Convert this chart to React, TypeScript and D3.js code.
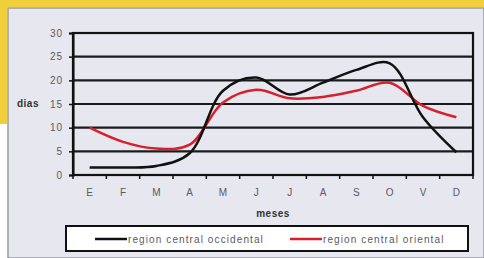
import React, { useRef, useEffect } from 'react'
import * as d3 from 'd3'

const meses = ['E', 'F', 'M', 'A', 'M', 'J', 'J', 'A', 'S', 'O', 'V', 'D']
const occidental = [1.6, 1.6, 1.9, 4.6, 17.8, 20.6, 17.0, 19.5, 22.2, 23.6, 12.2, 4.8]
const oriental = [10, 7, 5.6, 6.4, 15.3, 18, 16.2, 16.5, 17.8, 19.5, 14.6, 12.2]
const yTicks = [0, 5, 10, 15, 20, 25, 30]

const W = 484
const H = 258
const left = 73
const right = 473
const top = 33
const bottom = 175
const font = 'Liberation Sans, Arial, sans-serif'

function App() {
  const svgRef = useRef<SVGSVGElement>(null)

  useEffect(() => {
    const svg = d3.select(svgRef.current)
    svg.selectAll('*').remove()

    // frame: yellow border on top/left, light panel
    svg.append('rect').attr('width', W).attr('height', H).attr('fill', '#ffffff')
    svg.append('rect').attr('x', 0).attr('y', 0).attr('width', W).attr('height', 7).attr('fill', '#f0cf3a')
    svg.append('rect').attr('x', 0).attr('y', 0).attr('width', 7).attr('height', 124).attr('fill', '#f0cf3a')
    svg.append('rect').attr('x', 8).attr('y', 8).attr('width', W - 8).attr('height', H - 8)
      .attr('fill', '#e6e7ef').attr('stroke', '#9a9aa6').attr('stroke-width', 1.5)

    const x = d3.scaleBand<number>().domain(d3.range(meses.length)).range([left, right])
    const y = d3.scaleLinear().domain([0, 30]).range([bottom, top])

    const g = svg.append('g')

    // gridlines
    g.selectAll('.grid')
      .data(yTicks)
      .join('line')
      .attr('x1', left).attr('x2', right)
      .attr('y1', d => y(d)).attr('y2', d => y(d))
      .attr('stroke', '#1a1a20').attr('stroke-width', 2.2)

    // y axis
    const yAxis = d3.axisLeft(y).tickValues(yTicks).tickSize(4).tickPadding(6)
    const ya = g.append('g').attr('transform', `translate(${left},0)`).call(yAxis)
    ya.select('.domain').attr('stroke', '#111').attr('stroke-width', 2)
    ya.selectAll('.tick line').attr('stroke', '#111').attr('stroke-width', 1.5)
    ya.selectAll('.tick text')
      .attr('fill', '#5a5a60').attr('font-size', 10).attr('letter-spacing', 1).attr('font-family', font)

    // x axis: ticks at band boundaries
    const xAxis = d3.axisBottom(x).tickFormat(i => meses[i as number]).tickSize(0).tickPadding(14)
    const xa = g.append('g').attr('transform', `translate(0,${bottom})`).call(xAxis)
    xa.select('.domain').remove()
    xa.selectAll('.tick text')
      .attr('fill', '#5a5a60').attr('font-size', 10).attr('font-family', font)
    g.selectAll('.xtick')
      .data(d3.range(meses.length + 1))
      .join('line')
      .attr('x1', i => left + i * x.step()).attr('x2', i => left + i * x.step())
      .attr('y1', bottom).attr('y2', bottom + 4)
      .attr('stroke', '#111').attr('stroke-width', 1.5)

    // plot frame
    g.append('rect').attr('x', left).attr('y', top).attr('width', right - left).attr('height', bottom - top)
      .attr('fill', 'none').attr('stroke', '#111').attr('stroke-width', 2.2)

    const line = d3.line<number>()
      .x((_, i) => (x(i) as number) + x.bandwidth() / 2)
      .y(d => y(d))
      .curve(d3.curveCatmullRom.alpha(0.5))

    g.append('path').datum(oriental).attr('d', line)
      .attr('fill', 'none').attr('stroke', '#d8202c').attr('stroke-width', 2.5)
    g.append('path').datum(occidental).attr('d', line)
      .attr('fill', 'none').attr('stroke', '#111').attr('stroke-width', 2.5)

    // axis titles
    g.append('text').attr('x', 28).attr('y', y(15) + 3).attr('text-anchor', 'middle')
      .attr('font-size', 10).attr('font-weight', 'bold').attr('fill', '#333').attr('letter-spacing', 0.5)
      .attr('font-family', font).text('dias')
    g.append('text').attr('x', (left + right) / 2).attr('y', 217).attr('text-anchor', 'middle')
      .attr('font-size', 10).attr('font-weight', 'bold').attr('fill', '#333').attr('letter-spacing', 0.5)
      .attr('font-family', font).text('meses')

    // legend
    const lg = g.append('g')
    lg.append('rect').attr('x', 66).attr('y', 226).attr('width', 402).attr('height', 25)
      .attr('fill', '#fff').attr('stroke', '#111').attr('stroke-width', 2)
    const items = [
      { label: 'region central occidental', color: '#111', x0: 95 },
      { label: 'region central oriental', color: '#d8202c', x0: 290 },
    ]
    items.forEach(it => {
      lg.append('line').attr('x1', it.x0).attr('x2', it.x0 + 32).attr('y1', 239).attr('y2', 239)
        .attr('stroke', it.color).attr('stroke-width', 2.5)
      lg.append('text').attr('x', it.x0 + 33).attr('y', 242.5).attr('font-size', 10).attr('fill', '#5a5a60')
        .attr('letter-spacing', 1.1).attr('font-family', font).text(it.label)
    })
  }, [])

  return (
    <div style={{ position: 'absolute', left: 0, top: 0 }}>
      <svg ref={svgRef} width={W} height={H} />
    </div>
  )
}

export default App
